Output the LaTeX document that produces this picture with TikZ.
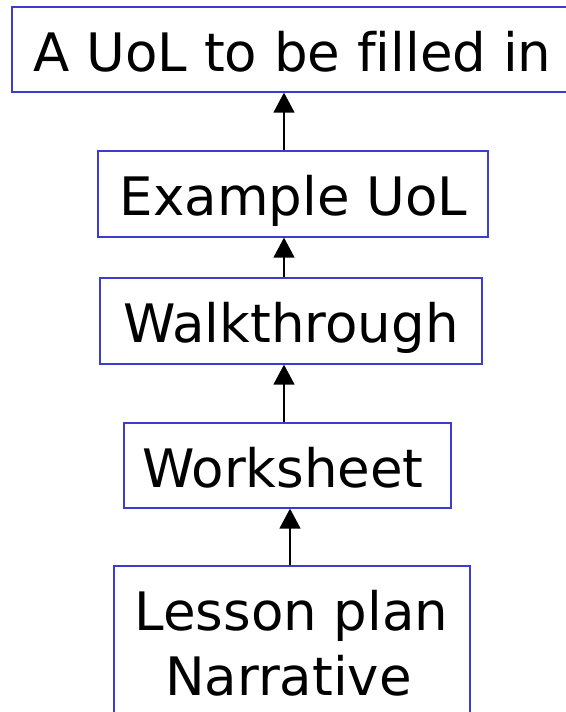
\documentclass[tikz,border=0pt]{standalone}
\usepackage{fontspec}
\setmainfont[Ligatures=NoCommon]{DejaVu Sans}
\usetikzlibrary{arrows.meta}
\definecolor{boxblue}{RGB}{60,60,210}
\tikzset{
  box/.style={draw=boxblue, line width=1.3pt, inner sep=0pt, fill=none},
  lbl/.style={anchor=base, inner sep=0pt, font=\fontsize{53}{64}\selectfont},
  arr/.style={line width=1.4pt, -{Triangle[width=21pt,length=20pt]}}
}
\begin{document}
\begin{tikzpicture}[x=1pt,y=-1pt]
\useasboundingbox (0,0) rectangle (565,712);
% boxes
\node[box, minimum width=564pt, minimum height=85pt] (b1) at (294,49.5) {};
\node[box, minimum width=390pt, minimum height=86pt] (b2) at (293,194) {};
\node[box, minimum width=382pt, minimum height=86pt] (b3) at (291,321) {};
\node[box, minimum width=327pt, minimum height=85pt] (b4) at (287.5,465.5) {};
\node[box, minimum width=356pt, minimum height=200pt] (b5) at (292,666) {};
% labels
\node[lbl] (t1) at (292.5,71) {A UoL to be filled in};
\node[lbl] (t2) at (293.5,215) {Example UoL};
\node[lbl] (t3) at (291,342) {Walkthrough};
\node[lbl] (t4) at (283,487) {Worksheet};
\node[lbl] (t5a) at (291.5,630) {Lesson plan};
\node[lbl] (t5b) at (288.5,695) {Narrative};
% arrow columns
\coordinate (c1) at (284,0);
\coordinate (c2) at (290,0);
\draw[arr] (c1 |- b2.north) -- (c1 |- b1.south);
\draw[arr] (c1 |- b3.north) -- (c1 |- b2.south);
\draw[arr] (c1 |- b4.north) -- (c1 |- b3.south);
\draw[arr] (c2 |- b5.north) -- (c2 |- b4.south);
\end{tikzpicture}
\end{document}
